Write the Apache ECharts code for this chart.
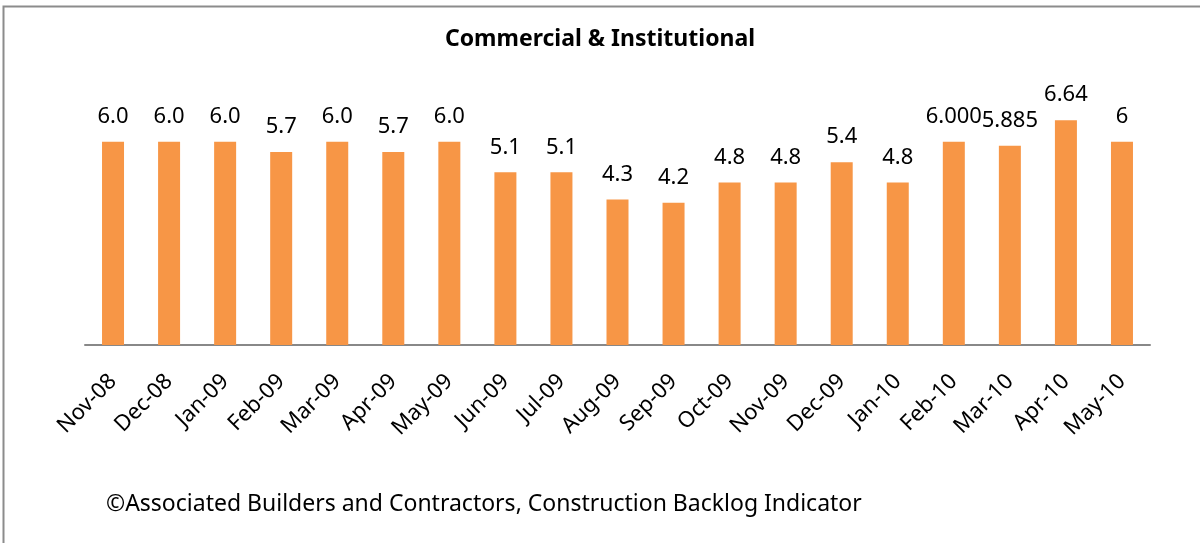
<!DOCTYPE html>
<html>
<head>
<meta charset="utf-8">
<script src="https://cdn.jsdelivr.net/npm/echarts@6/dist/echarts.min.js"></script>
<style>
  html, body { margin: 0; padding: 0; background: #fff; }
  #chart { width: 1200px; height: 543px; }
</style>
</head>
<body>
<div id="chart"></div>
<script>
  // 数据
  var months = ['Nov-08', 'Dec-08', 'Jan-09', 'Feb-09', 'Mar-09', 'Apr-09', 'May-09', 'Jun-09', 'Jul-09',
    'Aug-09', 'Sep-09', 'Oct-09', 'Nov-09', 'Dec-09', 'Jan-10', 'Feb-10', 'Mar-10', 'Apr-10', 'May-10']
  var backlog = [6.0, 6.0, 6.0, 5.7, 6.0, 5.7, 6.0, 5.1, 5.1, 4.3, 4.2, 4.8, 4.8, 5.4, 4.8, 6.0, 5.885, 6.64, 6]
  var labelText = ['6.0', '6.0', '6.0', '5.7', '6.0', '5.7', '6.0', '5.1', '5.1', '4.3', '4.2', '4.8', '4.8',
    '5.4', '4.8', '6.000', '5.885', '6.64', '6']

  var font = '"Noto Sans", "Open Sans", sans-serif'
  var myChart = echarts.init(document.getElementById('chart'))
  myChart.setOption({
    backgroundColor: '#fff',
    animation: false,
    title: {
      text: 'Commercial & Institutional',
      left: 'center',
      top: 23,
      textStyle: {
        fontFamily: font,
        fontSize: 23,
        fontWeight: 'bold',
        color: '#000'
      }
    },
    graphic: [{
      type: 'rect',
      shape: { x: 3.5, y: 6.5, width: 1300, height: 600 },
      style: { fill: 'none', stroke: '#8c8c8c', lineWidth: 2 }
    }, {
      type: 'text',
      left: 106,
      top: 493,
      style: {
        text: '©Associated Builders and Contractors, Construction Backlog Indicator',
        font: '23px ' + font,
        fill: '#000'
      }
    }],
    grid: {
      left: 85,
      right: 50,
      top: 108,
      bottom: 198
    },
    xAxis: {
      type: 'category',
      data: months,
      axisLine: { lineStyle: { color: '#888', width: 2 } },
      axisTick: { show: false },
      axisLabel: {
        interval: 0,
        rotate: 45,
        margin: 33,
        fontFamily: font,
        fontSize: 22,
        color: '#000'
      }
    },
    yAxis: {
      type: 'value',
      min: 0,
      max: 7,
      show: false,
      splitLine: { show: false }
    },
    series: [{
      type: 'bar',
      data: backlog,
      barWidth: 22,
      itemStyle: { color: '#F79646' },
      label: {
        show: true,
        position: 'top',
        distance: 14,
        fontFamily: font,
        fontSize: 22,
        color: '#000',
        formatter: function (p) {
          return labelText[p.dataIndex]
        }
      }
    }]
  })
</script>
</body>
</html>
